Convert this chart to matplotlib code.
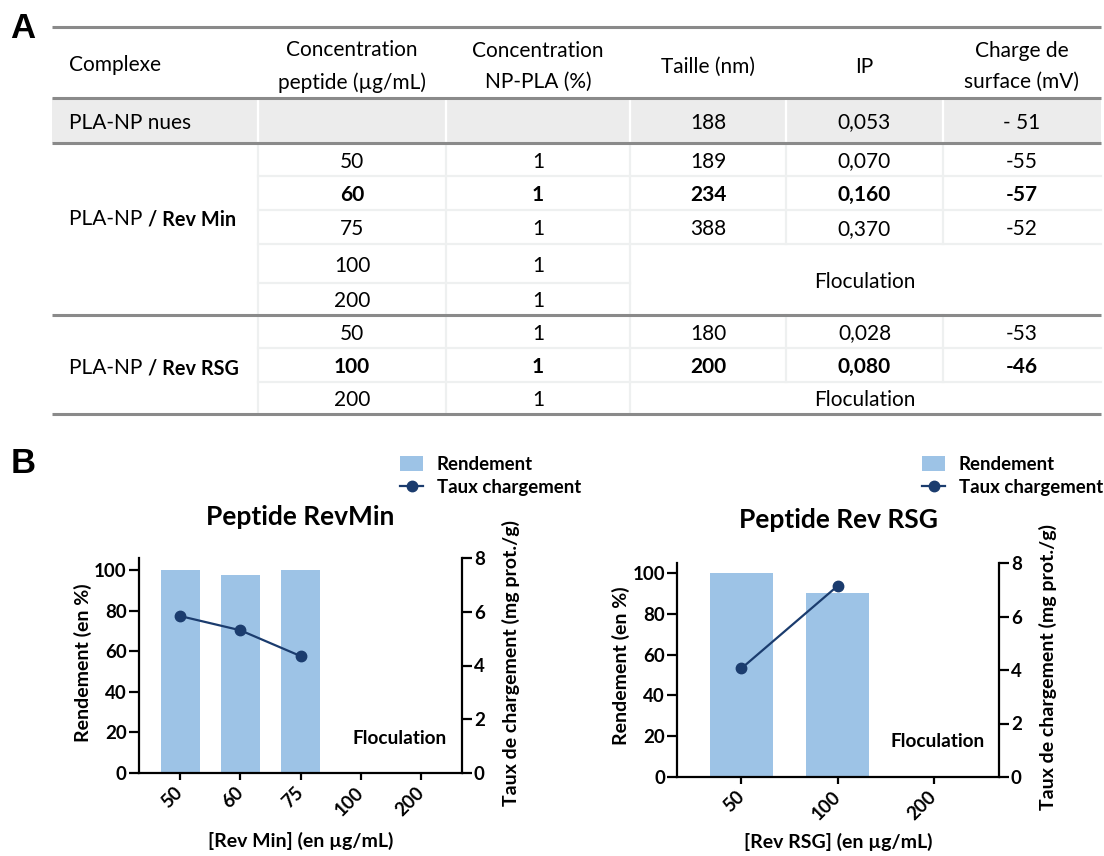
import matplotlib
matplotlib.use("Agg")
import matplotlib.pyplot as plt
import matplotlib.transforms as mtransforms
import numpy as np
from matplotlib.patches import Patch
from matplotlib.lines import Line2D

plt.rcParams['font.family'] = ['Lato', 'DejaVu Sans']

# ---------------- data : table ----------------
headers = ["Complexe", "Concentration\npeptide (\u00b5g/mL)", "Concentration\nNP-PLA (%)",
           "Taille (nm)", "IP", "Charge de\nsurface (mV)"]
nues_label = "PLA-NP nues"
nues_values = ["", "", "188", "0,053", "- 51"]

revmin_prefix = "PLA-NP "
revmin_name = "/ Rev Min"
revmin_conc = ["50", "60", "75", "100", "200"]
revmin_nppla = ["1", "1", "1", "1", "1"]
revmin_taille = ["189", "234", "388"]
revmin_ip = ["0,070", "0,160", "0,370"]
revmin_charge = ["-55", "-57", "-52"]
revmin_bold_row = 1

rsg_prefix = "PLA-NP "
rsg_name = "/ Rev RSG"
rsg_conc = ["50", "100", "200"]
rsg_nppla = ["1", "1", "1"]
rsg_taille = ["180", "200"]
rsg_ip = ["0,028", "0,080"]
rsg_charge = ["-53", "-46"]
rsg_bold_row = 1

floc_text = "Floculation"

# ---------------- data : charts ----------------
revmin_categories = ["50", "60", "75", "100", "200"]
revmin_rendement = [100, 97.4, 100, np.nan, np.nan]
revmin_taux = [5.84, 5.31, 4.35, np.nan, np.nan]

rsg_categories = ["50", "100", "200"]
rsg_rendement = [100, 90.3, np.nan]
rsg_taux = [4.06, 7.14, np.nan]

legend_labels = ["Rendement", "Taux chargement"]

BAR = "#9DC3E6"
LINE = "#1B3C6E"
RULE = "#8A8A8A"
LIGHT = "#EEF0F0"
GRAY = "#ECECEC"

W, H = 1104, 856
fig = plt.figure(figsize=(W / 100, H / 100), dpi=100)

# ---------------- table (pixel coordinates overlay) ----------------
tab = fig.add_axes([0, 0, 1, 1])
tab.set_xlim(0, W)
tab.set_ylim(H, 0)
tab.axis('off')

xl, xr = 52, 1101
cols = [52, 258, 446, 630, 786, 943, 1101]
centers = [(cols[i] + cols[i + 1]) / 2 for i in range(6)]
y_top, y_head, y_gray = 27, 98, 143
min_rows = [143, 176, 210, 244, 283, 315]
rsg_rows = [315, 348, 382, 414]
FS = 15
DY = 2

# gray row
tab.fill_between([xl, xr], y_head, y_gray, color=GRAY, lw=0, zorder=0)
for x in cols[1:-1]:
    tab.plot([x, x], [y_head, y_gray], color="white", lw=1.6, zorder=1)

# light dividers
for x in cols[1:4]:
    tab.plot([x, x], [y_gray, rsg_rows[-1]], color=LIGHT, lw=1.6, zorder=1)
for x in cols[4:6]:
    tab.plot([x, x], [min_rows[0], min_rows[3]], color=LIGHT, lw=1.6, zorder=1)
    tab.plot([x, x], [rsg_rows[0], rsg_rows[2]], color=LIGHT, lw=1.6, zorder=1)
for y in min_rows[1:4] + rsg_rows[1:3]:
    tab.plot([cols[1], xr], [y, y], color=LIGHT, lw=1.6, zorder=1)
tab.plot([cols[1], cols[3]], [min_rows[4], min_rows[4]], color=LIGHT, lw=1.6, zorder=1)

# main rules
for y in [y_top, y_head, y_gray, rsg_rows[0], rsg_rows[-1]]:
    tab.plot([xl, xr], [y, y], color=RULE, lw=2.2, zorder=3, solid_capstyle='butt')

# header
tab.text(69, (y_top + y_head) / 2 + 2, headers[0], ha='left', va='center', fontsize=FS)
for i in range(1, 6):
    tab.text(centers[i], (y_top + y_head) / 2 + 4, headers[i], ha='center', va='center',
             fontsize=FS, linespacing=1.7)

# gray row
tab.text(69, (y_head + y_gray) / 2 + DY, nues_label, ha='left', va='center', fontsize=FS)
for i, v in enumerate(nues_values):
    tab.text(centers[i + 1], (y_head + y_gray) / 2 + DY, v, ha='center', va='center',
             fontsize=FS)


def group(rows, prefix, name, conc, nppla, taille, ip, charge, bold_row, label_y):
    t1 = tab.text(69, label_y, prefix, ha='left', va='center', fontsize=FS)
    tab.annotate(name, xy=(1, 0), xycoords=t1, ha='left', va='bottom',
                 fontsize=14.3, fontweight='bold')
    for r in range(len(conc)):
        yc = (rows[r] + rows[r + 1]) / 2 + DY
        wt = 'bold' if r == bold_row else 'normal'
        tab.text(centers[1], yc, conc[r], ha='center', va='center', fontsize=FS, fontweight=wt)
        tab.text(centers[2], yc, nppla[r], ha='center', va='center', fontsize=FS, fontweight=wt)
        if r < len(taille):
            for c, vals in zip([3, 4, 5], [taille, ip, charge]):
                tab.text(centers[c], yc, vals[r], ha='center', va='center',
                         fontsize=FS, fontweight=wt)
    yf = (rows[len(taille)] + rows[len(conc)]) / 2 + DY
    tab.text(centers[4], yf, floc_text, ha='center', va='center', fontsize=FS)


group(min_rows, revmin_prefix, revmin_name, revmin_conc, revmin_nppla, revmin_taille,
      revmin_ip, revmin_charge, revmin_bold_row, 219)
group(rsg_rows, rsg_prefix, rsg_name, rsg_conc, rsg_nppla, rsg_taille,
      rsg_ip, rsg_charge, rsg_bold_row, 368)

# panel letters
fig.text(23 / W, 1 - 29 / H, "A", ha='center', va='center', fontsize=25,
         fontweight='bold', family='Liberation Sans')
fig.text(23 / W, 1 - 464 / H, "B", ha='center', va='center', fontsize=25,
         fontweight='bold', family='Liberation Sans')

TICK_FS = 13.5
LAB_FS = 14
# ---------------- charts ----------------
def chart(px, cats, rend, taux, ytop, xlim, bw, title, title_pad, xlabel, xlab_y,
          floc_xy, leg_px, ylab_left, ylab_right):
    x0, y0, x1, y1 = px
    ax = fig.add_axes([x0 / W, 1 - y1 / H, (x1 - x0) / W, (y1 - y0) / H])
    x = np.arange(len(cats))
    ax.bar(x, rend, width=bw, color=BAR, zorder=1)
    ax.set_xlim(*xlim)
    ax.set_ylim(0, ytop)
    ax.set_yticks([0, 20, 40, 60, 80, 100])
    ax.set_xticks(x)
    ax.set_xticklabels(cats, rotation=45, ha='right', va='center', rotation_mode='anchor')
    off = mtransforms.ScaledTranslation(5 / 100, 0, fig.dpi_scale_trans)
    for lab in ax.get_xticklabels():
        lab.set_transform(lab.get_transform() + off)
    for s in ['top', 'right']:
        ax.spines[s].set_visible(False)
    for s in ['left', 'bottom']:
        ax.spines[s].set_linewidth(1.6)
    ax.tick_params(axis='y', length=7, width=1.6, pad=1.5, labelsize=TICK_FS)
    ax.tick_params(axis='x', length=5, width=1.6, pad=7, labelsize=TICK_FS)
    for lab in ax.get_xticklabels() + ax.get_yticklabels():
        lab.set_fontweight('bold')

    ax2 = ax.twinx()
    ax2.plot(x, taux, color=LINE, marker='o', ms=7.5, lw=1.6, zorder=3)
    ax2.set_ylim(0, 8)
    ax2.set_yticks([0, 2, 4, 6, 8])
    for s in ['top', 'left', 'bottom']:
        ax2.spines[s].set_visible(False)
    ax2.spines['right'].set_linewidth(1.6)
    ax2.tick_params(axis='y', length=7, width=1.6, pad=1.5, labelsize=TICK_FS)
    for lab in ax2.get_yticklabels():
        lab.set_fontweight('bold')

    ax.set_title(title, fontsize=19, fontweight='bold', pad=title_pad)
    ax.set_xlabel(xlabel, fontsize=LAB_FS, fontweight='bold')
    ax.xaxis.set_label_coords(0.5, xlab_y)
    ax.set_ylabel("Rendement (en %)", fontsize=LAB_FS, fontweight='bold')
    ax.yaxis.set_label_coords(*ylab_left)
    ax2.set_ylabel("Taux de chargement (mg prot./g)", fontsize=LAB_FS, fontweight='bold',
                   rotation=90)
    ax2.yaxis.set_label_coords(*ylab_right)

    ax.text(floc_xy[0], floc_xy[1], floc_text, ha='center', va='center',
            fontsize=13.7, fontweight='bold')

    handles = [Patch(facecolor=BAR, edgecolor='none'),
               Line2D([0], [0], color=LINE, marker='o', ms=7.5, lw=1.6)]
    fig.legend(handles, legend_labels, loc='upper left',
               bbox_to_anchor=(leg_px[0] / W, 1 - leg_px[1] / H),
               frameon=False, borderpad=0, borderaxespad=0,
               handlelength=1.25, handleheight=0.9, handletextpad=0.72,
               labelspacing=0.3, prop={'weight': 'bold', 'size': 13.4})
    return ax


chart((138.6, 558, 462, 773), revmin_categories, revmin_rendement, revmin_taux,
      105.9, (-0.69, 4.68), 0.65, "Peptide RevMin", 24,
      "[Rev Min] (en \u00b5g/mL)", -0.275, (3.65, 17.2), (400, 456),
      (-0.144, 0.512), (1.124, 0.512))

chart((677, 563, 999, 777), rsg_categories, rsg_rendement, rsg_taux,
      104.9, (-0.67, 2.68), 0.66, "Peptide Rev RSG", 25,
      "[Rev RSG] (en \u00b5g/mL)", -0.262, (2.04, 17.2), (922, 456),
      (-0.145, 0.519), (1.124, 0.514))

fig.savefig("out.png", dpi=100)
